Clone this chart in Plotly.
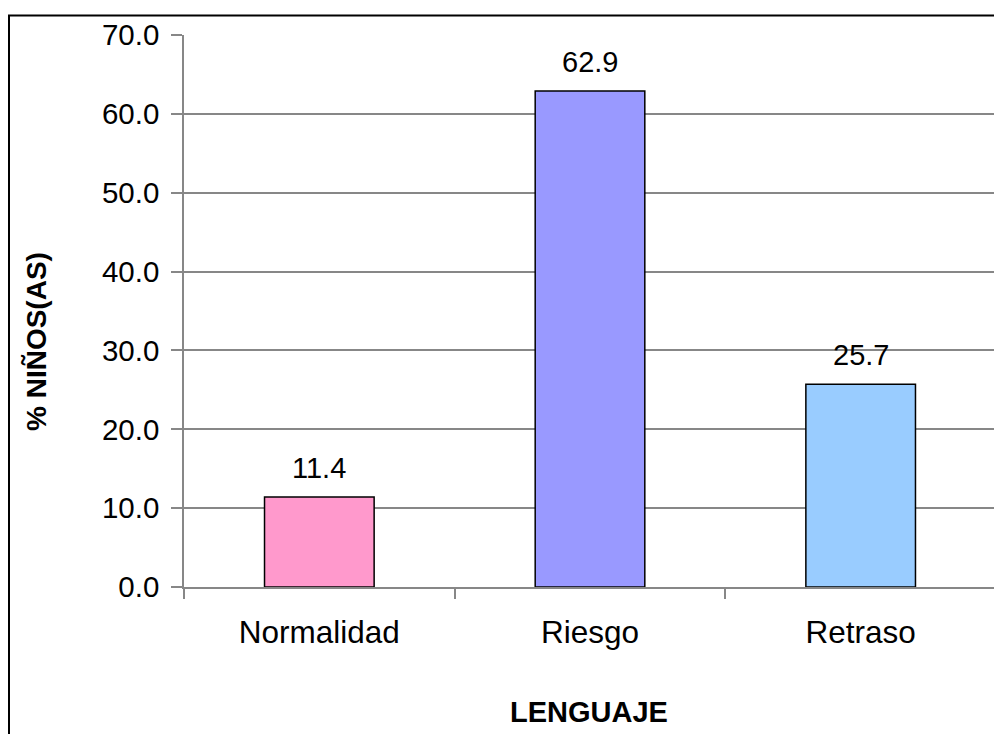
import plotly.graph_objects as go

categories = ["Normalidad", "Riesgo", "Retraso"]
values = [11.4, 62.9, 25.7]
labels = ["11.4", "62.9", "25.7"]
colors = ["#FF99CC", "#9999FF", "#99CCFF"]
y_ticks = [0, 10, 20, 30, 40, 50, 60, 70]
y_ticktext = ["0.0", "10.0", "20.0", "30.0", "40.0", "50.0", "60.0", "70.0"]

# page body has an 8px margin, so the figure starts at (8, 8)
OFF = 8
W, H = 1002 - OFF, 734 - OFF
L, R, T = 184 - OFF, 6, 35 - OFF
B = H - (587 - OFF)
pw, ph = W - L - R, H - T - B


def px(x):
    return (x - OFF - L) / pw


def py(y):
    return (T + ph - (y - OFF)) / ph


FONT = "Liberation Sans, Arial, sans-serif"

fig = go.Figure()
fig.add_trace(go.Bar(
    x=categories, y=values,
    marker=dict(color=colors, line=dict(color="#000000", width=1.5)),
    hoverinfo="skip",
))

annotations = []
for c, v, t in zip(categories, values, labels):
    annotations.append(dict(
        x=c, y=v, xref="x", yref="y", text=t, showarrow=False,
        yanchor="bottom", yshift=11,
        font=dict(family=FONT, size=29, color="#000000"),
    ))

annotations.append(dict(
    x=px(589), y=py(712), xref="paper", yref="paper",
    text="<b>LENGUAJE</b>", showarrow=False, xanchor="center", yanchor="middle",
    font=dict(family=FONT, size=29, color="#000000"),
))
annotations.append(dict(
    x=px(36), y=py(342), xref="paper", yref="paper",
    text="<b>% NIÑOS(AS)</b>", showarrow=False, textangle=-90,
    xanchor="center", yanchor="middle",
    font=dict(family=FONT, size=28, color="#000000"),
))

fig.update_layout(
    width=W, height=H,
    margin=dict(l=L, r=R, t=T, b=B),
    paper_bgcolor="#FFFFFF", plot_bgcolor="#FFFFFF",
    showlegend=False,
    bargap=0.595,
    annotations=annotations,
    shapes=[dict(
        type="rect", xref="paper", yref="paper",
        x0=px(9), x1=px(1020),
        y0=py(760), y1=py(15.5),
        line=dict(color="#000000", width=2), fillcolor="rgba(0,0,0,0)",
        layer="above",
    )],
    xaxis=dict(
        showline=True, linecolor="#878787", linewidth=1.5,
        ticks="outside", tickson="boundaries", ticklen=10, tickcolor="#878787",
        tickwidth=1.5,
        tickfont=dict(family=FONT, size=31.5, color="#000000"),
        ticklabelstandoff=16,
        showgrid=False, zeroline=False,
    ),
    yaxis=dict(
        range=[0, 70], tickvals=y_ticks, ticktext=y_ticktext,
        showline=True, linecolor="#878787", linewidth=1.5,
        ticks="outside", ticklen=11, tickcolor="#878787", tickwidth=1.5,
        tickfont=dict(family=FONT, size=29.5, color="#000000"),
        ticklabelstandoff=6,
        showgrid=True, gridcolor="#878787", gridwidth=1.5,
        zeroline=False,
    ),
)

fig.write_html("out.html")
